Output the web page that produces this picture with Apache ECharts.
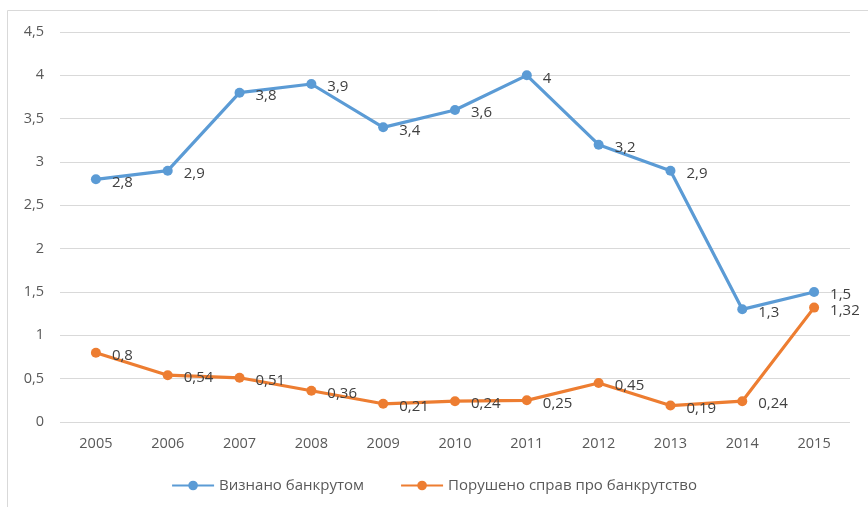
<!DOCTYPE html>
<html>
<head>
<meta charset="utf-8">
<script src="https://cdn.jsdelivr.net/npm/echarts@6/dist/echarts.min.js"></script>
<style>html,body{margin:0;padding:0;background:#fff}#c{width:868px;height:507px}</style>
</head>
<body>
<div id="c"></div>
<script>
const categories = ['2005','2006','2007','2008','2009','2010','2011','2012','2013','2014','2015'];
const seriesNames = ['Визнано банкрутом', 'Порушено справ про банкрутство'];
const recognized = [2.8, 2.9, 3.8, 3.9, 3.4, 3.6, 4, 3.2, 2.9, 1.3, 1.5];
const initiated = [0.8, 0.54, 0.51, 0.36, 0.21, 0.24, 0.25, 0.45, 0.19, 0.24, 1.32];

const fmt = v => String(v).replace('.', ',');
const font = '"Open Sans", "Noto Sans", sans-serif';

const chart = echarts.init(document.getElementById('c'), null, {renderer: 'canvas'});
const labelCfg = {
  show: true, position: 'right', distance: 11, offset: [0, 3],
  color: '#404040', fontSize: 15, fontFamily: font,
  formatter: p => fmt(p.value)
};
chart.setOption({
  animation: false,
  graphic: [{
    type: 'rect', shape: {x: 7.5, y: 10.5, width: 1000, height: 1000},
    style: {fill: 'none', stroke: '#d9d9d9', lineWidth: 1}, silent: true, z: -1
  }],
  grid: {left: 60, right: 18, top: 32, bottom: 85, containLabel: false},
  legend: {
    bottom: 9, left: 'center', itemGap: 36, itemWidth: 42, itemHeight: 12,
    textStyle: {color: '#595959', fontSize: 15, fontFamily: font},
    data: seriesNames
  },
  xAxis: {
    type: 'category', data: categories, boundaryGap: true,
    axisLine: {show: false}, axisTick: {show: false},
    axisLabel: {color: '#595959', fontSize: 14.5, fontFamily: font, margin: 14}
  },
  yAxis: {
    type: 'value', min: 0, max: 4.5, interval: 0.5,
    axisLine: {show: false}, axisTick: {show: false},
    splitLine: {lineStyle: {color: '#d9d9d9', width: 1}},
    axisLabel: {color: '#595959', fontSize: 14.5, fontFamily: font, margin: 16,
      formatter: v => fmt(v)}
  },
  series: [
    {name: seriesNames[0], type: 'line', data: recognized, symbol: 'circle', symbolSize: 10,
     lineStyle: {color: '#5b9bd5', width: 3.2}, itemStyle: {color: '#5b9bd5'}, label: labelCfg},
    {name: seriesNames[1], type: 'line', data: initiated, symbol: 'circle', symbolSize: 10,
     lineStyle: {color: '#ed7d31', width: 3.2}, itemStyle: {color: '#ed7d31'}, label: labelCfg}
  ]
});
</script>
</body>
</html>
